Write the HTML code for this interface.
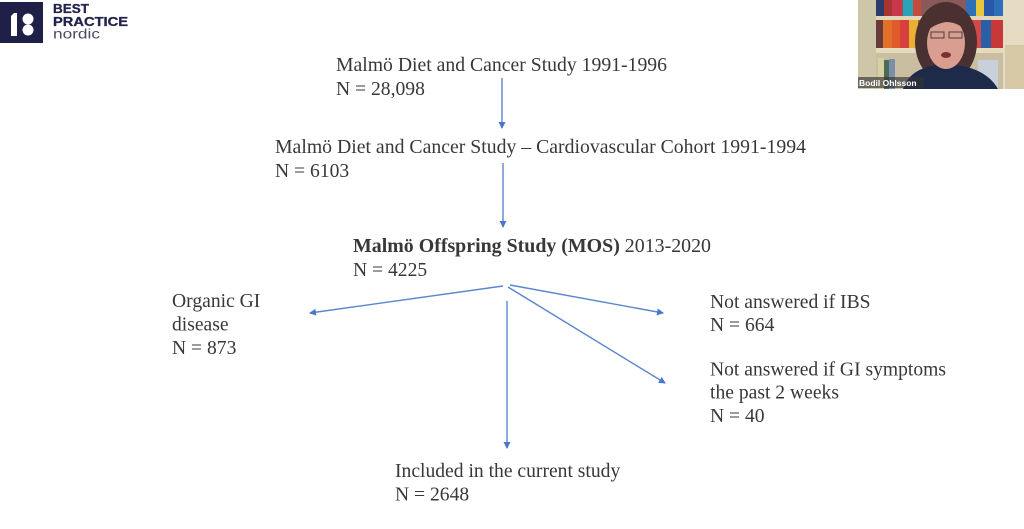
<!DOCTYPE html>
<html>
<head>
<meta charset="utf-8">
<style>
  html,body{margin:0;padding:0;background:#fff;}
  body{width:1024px;height:529px;overflow:hidden;position:relative;}
  svg{position:absolute;left:0;top:0;}
  .t{font-family:"Liberation Serif","Times New Roman",serif;font-size:19.6px;fill:#383838;}
  .b{font-weight:bold;}
</style>
</head>
<body>
<svg width="1024" height="529" viewBox="0 0 1024 529" xmlns="http://www.w3.org/2000/svg">
  <defs>
    <marker id="ah" markerWidth="8" markerHeight="8" refX="6" refY="3.5" orient="auto" markerUnits="userSpaceOnUse">
      <path d="M0,0 L7,3.5 L0,7 Z" fill="#4a78c8"/>
    </marker>
  </defs>

  <!-- Logo -->
  <rect x="0" y="2" width="43" height="41" fill="#1f2048"/>
  <path d="M11,16 L14,13 L17,13 L17,36 L11,36 Z" fill="#fff"/>
  <circle cx="28" cy="19" r="5.5" fill="#fff"/>
  <circle cx="28" cy="30" r="5.5" fill="#fff"/>
  <text x="53" y="13" font-family="Liberation Sans, sans-serif" font-weight="bold" font-size="12.5" fill="#22234a" stroke="#22234a" stroke-width="0.3" textLength="36" lengthAdjust="spacingAndGlyphs">BEST</text>
  <text x="53" y="26" font-family="Liberation Sans, sans-serif" font-weight="bold" font-size="12.5" fill="#22234a" stroke="#22234a" stroke-width="0.3" textLength="75" lengthAdjust="spacingAndGlyphs">PRACTICE</text>
  <text x="53" y="38.5" font-family="Liberation Sans, sans-serif" font-size="13.5" fill="#4a4a66" textLength="47" lengthAdjust="spacingAndGlyphs">nordic</text>

  <!-- Webcam -->
  <g>
    <rect x="858" y="0" width="166" height="89" fill="#d9cfb8"/>
    <rect x="858" y="0" width="18" height="89" fill="#cdc6a9"/>
    <rect x="1003" y="0" width="21" height="89" fill="#e6dcc4"/>
    <rect x="1005" y="45" width="19" height="44" fill="#d8c9a6"/>
    <rect x="876" y="0" width="127" height="16" fill="#8a5a5a"/>
    <rect x="876" y="0" width="8" height="16" fill="#2c3b6a"/>
    <rect x="884" y="0" width="8" height="16" fill="#a33"/>
    <rect x="892" y="0" width="10" height="16" fill="#c9384a"/>
    <rect x="903" y="0" width="10" height="16" fill="#2aa3b8"/>
    <rect x="913" y="0" width="8" height="16" fill="#c84a3a"/>
    <rect x="966" y="0" width="10" height="16" fill="#2d6fb8"/>
    <rect x="976" y="0" width="8" height="16" fill="#e8c83a"/>
    <rect x="984" y="0" width="10" height="16" fill="#2858a8"/>
    <rect x="994" y="0" width="9" height="16" fill="#2d6fb8"/>
    <rect x="876" y="16" width="127" height="4" fill="#e3d6b8"/>
    <rect x="876" y="20" width="127" height="28" fill="#b3563a"/>
    <rect x="876" y="20" width="7" height="28" fill="#6a3a3a"/>
    <rect x="883" y="20" width="9" height="28" fill="#e2702a"/>
    <rect x="892" y="20" width="8" height="28" fill="#e05a2a"/>
    <rect x="900" y="20" width="9" height="28" fill="#d84040"/>
    <rect x="909" y="20" width="9" height="28" fill="#e8b030"/>
    <rect x="972" y="20" width="9" height="28" fill="#d04848"/>
    <rect x="981" y="20" width="10" height="28" fill="#2a5fa8"/>
    <rect x="991" y="20" width="12" height="28" fill="#c83838"/>
    <rect x="876" y="48" width="127" height="5" fill="#e6dabc"/>
    <rect x="876" y="53" width="127" height="36" fill="#c9bea2"/>
    <rect x="878" y="58" width="6" height="31" fill="#d8d0a0"/>
    <rect x="884" y="60" width="5" height="29" fill="#4a6a5a"/>
    <rect x="889" y="59" width="6" height="30" fill="#7a8fa8"/>
    <rect x="978" y="60" width="20" height="29" fill="#c8d0dc"/>
    <ellipse cx="946" cy="42" rx="31" ry="40" fill="#4a3030"/>
    <path d="M903,89 Q910,66 946,64 Q985,66 998,89 Z" fill="#1e2a4a"/>
    <ellipse cx="946" cy="43" rx="19" ry="26" fill="#d99e90"/>
    <path d="M926,32 Q930,12 948,12 Q966,14 968,32 Q958,22 946,22 Q934,24 926,32 Z" fill="#4a3030"/>
    <rect x="931" y="32" width="13" height="6" fill="none" stroke="#444" stroke-width="1"/>
    <rect x="949" y="32" width="13" height="6" fill="none" stroke="#444" stroke-width="1"/>
    <ellipse cx="946" cy="55" rx="5" ry="3" fill="#7a3030"/>
    <rect x="858" y="77" width="66" height="11" fill="#333" opacity="0.65"/>
    <text x="859" y="86" font-family="Liberation Sans, sans-serif" font-weight="bold" font-size="8.5" fill="#fff">Bodil Ohlsson</text>
  </g>

  <!-- Text -->
  <text class="t" x="336" y="71" textLength="331" lengthAdjust="spacingAndGlyphs">Malmö Diet and Cancer Study 1991-1996</text>
  <text class="t" x="336" y="95">N = 28,098</text>

  <text class="t" x="275" y="153" textLength="531" lengthAdjust="spacingAndGlyphs">Malmö Diet and Cancer Study – Cardiovascular Cohort 1991-1994</text>
  <text class="t" x="275" y="177">N = 6103</text>

  <text class="t" x="353" y="252" textLength="358" lengthAdjust="spacingAndGlyphs"><tspan class="b">Malmö Offspring Study (MOS)</tspan> 2013-2020</text>
  <text class="t" x="353" y="276">N = 4225</text>

  <text class="t" x="172" y="307">Organic GI</text>
  <text class="t" x="172" y="330.5">disease</text>
  <text class="t" x="172" y="354">N = 873</text>

  <text class="t" x="710" y="308">Not answered if IBS</text>
  <text class="t" x="710" y="331">N = 664</text>

  <text class="t" x="710" y="375.5" textLength="236" lengthAdjust="spacingAndGlyphs">Not answered if GI symptoms</text>
  <text class="t" x="710" y="398.5">the past 2 weeks</text>
  <text class="t" x="710" y="422">N = 40</text>

  <text class="t" x="395" y="477">Included in the current study</text>
  <text class="t" x="395" y="500.5">N = 2648</text>

  <!-- Arrows -->
  <g stroke="#5a86cf" stroke-width="1.4" fill="none">
    <line x1="502" y1="78" x2="502" y2="128" marker-end="url(#ah)"/>
    <line x1="503" y1="163" x2="503" y2="227" marker-end="url(#ah)"/>
    <line x1="503" y1="286" x2="310" y2="313" marker-end="url(#ah)"/>
    <line x1="510" y1="285" x2="663" y2="313" marker-end="url(#ah)"/>
    <line x1="508" y1="287" x2="665" y2="383" marker-end="url(#ah)"/>
    <line x1="507" y1="301" x2="507" y2="448" marker-end="url(#ah)"/>
  </g>
</svg>
</body>
</html>
